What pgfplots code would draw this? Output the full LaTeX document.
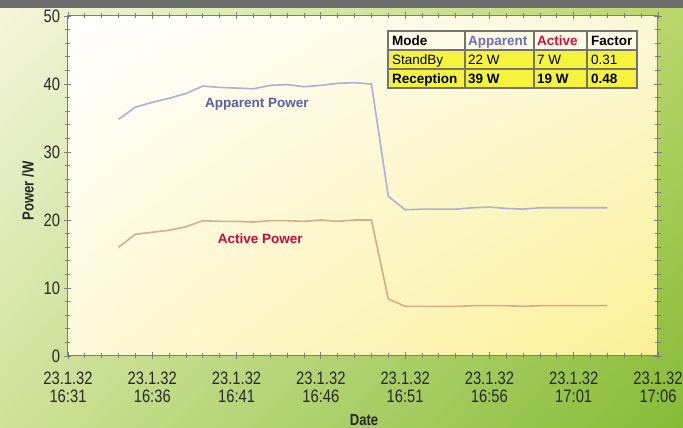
\documentclass[border=0pt]{standalone}
\usepackage{fontspec}
\setmainfont{Liberation Sans}
\newfontfamily\condfont[FakeStretch=0.82]{Liberation Sans}
\usepackage{pgfplots}
\pgfplotsset{compat=1.18}
\usetikzlibrary{shadings}
\definecolor{bgUL}{RGB}{245,246,222}
\definecolor{bgUR}{RGB}{186,214,108}
\definecolor{bgLL}{RGB}{206,226,152}
\definecolor{bgLR}{RGB}{134,187,54}
\definecolor{paUL}{RGB}{255,255,255}
\definecolor{paUR}{RGB}{252,248,214}
\definecolor{paLL}{RGB}{253,249,216}
\definecolor{paLR}{RGB}{251,240,150}
\definecolor{appline}{RGB}{172,176,214}
\definecolor{actline}{RGB}{214,172,140}
\definecolor{applab}{RGB}{88,94,168}
\definecolor{actlab}{RGB}{196,10,60}
\definecolor{axgray}{RGB}{125,125,125}
\definecolor{tabhead}{RGB}{253,251,230}
\definecolor{tabyel}{RGB}{246,243,60}
\definecolor{titlebar}{RGB}{110,110,110}
\definecolor{txt}{RGB}{40,40,40}
\definecolor{hdapp}{RGB}{110,112,184}
\definecolor{hdact}{RGB}{208,16,60}
\begin{document}
\begin{tikzpicture}[x=1pt,y=1pt]
\useasboundingbox (-68,-72) rectangle (615,356);
\shade[upper left=bgUL, upper right=bgUR, lower left=bgLL, lower right=bgLR] (-68,-72) rectangle (615,356);
\fill[titlebar] (-68,348) rectangle (615,356);
\begin{axis}[at={(0,0)}, anchor=south west, scale only axis,
  width=590pt, height=340pt,
  xmin=0, xmax=35, ymin=0, ymax=50,
  xtick={0,5,...,35},
  xticklabels={23.1.32\\16:31,23.1.32\\16:36,23.1.32\\16:41,23.1.32\\16:46,23.1.32\\16:51,23.1.32\\16:56,23.1.32\\17:01,23.1.32\\17:06},
  minor x tick num=4,
  ytick={0,10,...,50},
  minor y tick num=4,
  tick align=center,
  major tick length=7pt, minor tick length=5pt,
  axis line style={axgray, line width=1pt},
  every tick/.style={axgray, line width=0.8pt},
  xticklabel style={align=center, font=\condfont\fontsize{18}{18}\selectfont, text=txt, yshift=-9pt},
  yticklabel style={font=\condfont\fontsize{18}{18}\selectfont, text=txt, xshift=-1pt},
  /pgf/number format/assume math mode=true,
  axis background/.style={shade, upper left=paUL, upper right=paUR, lower left=paLL, lower right=paLR},
  clip=false]
\addplot[appline, line width=1.6pt] coordinates {
(3,34.8) (4,36.6) (5,37.3) (6,37.9) (7,38.6) (8,39.7) (9,39.5) (10,39.4) (11,39.3) (12,39.8) (13,39.9) (14,39.6) (15,39.8) (16,40.1) (17,40.2) (18,40.0)
(19,23.5) (20,21.5) (21,21.6) (22,21.6) (23,21.6) (24,21.8) (25,21.9) (26,21.7) (27,21.6) (28,21.8) (29,21.8) (30,21.8) (31,21.8) (32,21.8)};
\addplot[actline, line width=1.6pt] coordinates {
(3,16.0) (4,17.9) (5,18.2) (6,18.5) (7,19.0) (8,19.9) (9,19.8) (10,19.8) (11,19.7) (12,19.9) (13,19.9) (14,19.8) (15,20.0) (16,19.8) (17,20.0) (18,20.0)
(19,8.4) (20,7.3) (21,7.3) (22,7.3) (23,7.3) (24,7.4) (25,7.4) (26,7.4) (27,7.3) (28,7.4) (29,7.4) (30,7.4) (31,7.4) (32,7.4)};
\node[text=applab, font=\bfseries\fontsize{13.5}{16}\selectfont] at (axis cs:11.2,37.06) {Apparent Power};
\node[text=actlab, font=\bfseries\fontsize{13.5}{16}\selectfont] at (axis cs:11.4,17.2) {Active Power};
\end{axis}
\begin{scope}[x=1pt,y=-1pt,shift={(-68pt,356pt)}]
\node[text=txt, font=\condfont\bfseries\fontsize{16}{18}\selectfont] at (364,420) {Date};
\node[text=txt, font=\condfont\bfseries\fontsize{16}{18}\selectfont, rotate=90] at (28,191) {Power /W};
\fill[tabhead] (388,31) rectangle (637,50);
\fill[tabyel] (388,50) rectangle (637,88);
\draw[black!55, line width=1.2pt] (388,31) rectangle (637,88);
\draw[black!55, line width=1.2pt] (388,50) -- (637,50) (388,69) -- (637,69)
  (465,31) -- (465,88) (534,31) -- (534,88) (587,31) -- (587,88);
\begin{scope}[every node/.style={anchor=base west, inner sep=0pt, font=\fontsize{13.5}{15}\selectfont}]
\node[font=\bfseries\fontsize{13.5}{15}\selectfont] at (392,45.5) {Mode};
\node[font=\bfseries\fontsize{13.5}{15}\selectfont, text=hdapp] at (468,45.5) {Apparent};
\node[font=\bfseries\fontsize{13.5}{15}\selectfont, text=hdact] at (537,45.5) {Active};
\node[font=\bfseries\fontsize{13.5}{15}\selectfont] at (591,45.5) {Factor};
\node at (392,64.5) {StandBy};
\node at (468,64.5) {22 W};
\node at (537,64.5) {7 W};
\node at (591,64.5) {0.31};
\node[font=\bfseries\fontsize{13.5}{15}\selectfont] at (392,83.5) {Reception};
\node[font=\bfseries\fontsize{13.5}{15}\selectfont] at (468,83.5) {39 W};
\node[font=\bfseries\fontsize{13.5}{15}\selectfont] at (537,83.5) {19 W};
\node[font=\bfseries\fontsize{13.5}{15}\selectfont] at (591,83.5) {0.48};
\end{scope}
\end{scope}
\end{tikzpicture}
\end{document}
